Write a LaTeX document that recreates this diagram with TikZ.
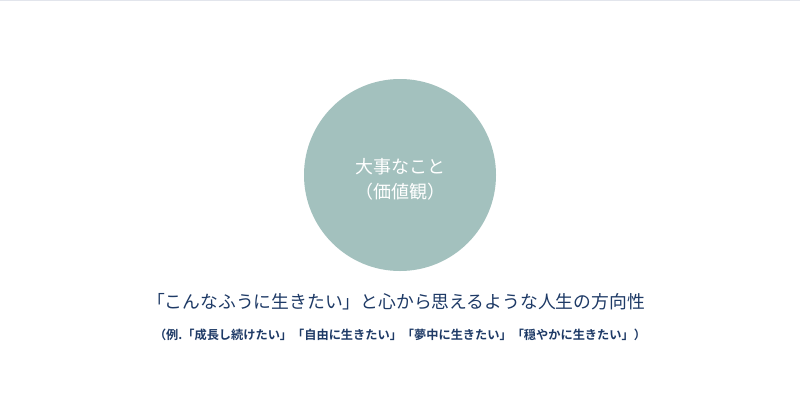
\documentclass[tikz,border=0pt]{standalone}
\usepackage{fontspec}
\newfontfamily\jp{Noto Sans CJK JP}
\newfontfamily\jpb{Noto Sans CJK JP Bold}
\definecolor{circ}{HTML}{A3C1BE}
\definecolor{navy}{HTML}{1E3A66}
\definecolor{topline}{HTML}{E2E5EC}
\begin{document}
\begin{tikzpicture}[x=1pt,y=-1pt,
  maintext/.style={text=navy,font=\jp\fontsize{17.8}{20}\selectfont,inner sep=0pt},
  subtext/.style={text=navy,font=\jpb\fontsize{12.2}{15}\selectfont,inner sep=0pt},
  circtext/.style={text=white,font=\jp\fontsize{18}{25}\selectfont,align=center,inner sep=0pt}]
\useasboundingbox (0,0) rectangle (800,400);
\fill[white] (0,0) rectangle (800,400);
\fill[topline] (0,0) rectangle (800,1.2);
\node[circle,fill=circ,minimum size=192pt,inner sep=0pt] (c) at (400,175) {};
\node[circtext] (ct) at (400,179) {大事なこと\\（価値観）};
\node[maintext] (m) at (396,302) {「こんなふうに生きたい」と心から思えるような人生の方向性};
\node[subtext] (s) at (400,335) {（例.「成長し続けたい」「自由に生きたい」「夢中に生きたい」「穏やかに生きたい」）};
\end{tikzpicture}
\end{document}
